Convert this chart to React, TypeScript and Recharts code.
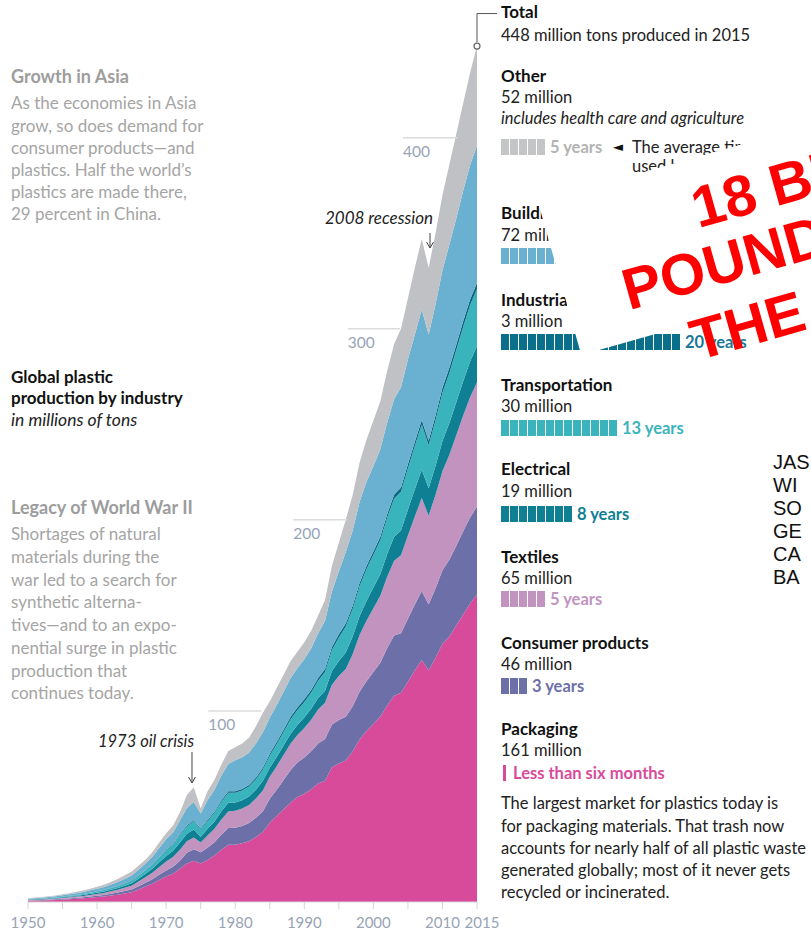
import React from "react";
import { AreaChart, Area, XAxis, YAxis, ReferenceLine, ReferenceDot } from "recharts";

// years 1950-2015, million tons per industry
const YEARS = [
  1950, 1951, 1952, 1953, 1954, 1955, 1956, 1957, 1958, 1959,
  1960, 1961, 1962, 1963, 1964, 1965, 1966, 1967, 1968, 1969,
  1970, 1971, 1972, 1973, 1974, 1975, 1976, 1977, 1978, 1979,
  1980, 1981, 1982, 1983, 1984, 1985, 1986, 1987, 1988, 1989,
  1990, 1991, 1992, 1993, 1994, 1995, 1996, 1997, 1998, 1999,
  2000, 2001, 2002, 2003, 2004, 2005, 2006, 2007, 2008, 2009,
  2010, 2011, 2012, 2013, 2014, 2015,
];

const PACKAGING = [
  0.64, 0.74, 0.83, 0.96, 1.09, 1.28, 1.47, 1.7, 1.92, 2.24,
  2.56, 2.88, 3.36, 3.84, 4.48, 5.12, 6.6, 8.1, 9.6, 11.5,
  13.3, 14.8, 17.4, 20.2, 21.6, 20.1, 22.0, 24.3, 27.4, 30.0,
  30.0, 30.7, 31.8, 34.0, 36.6, 41.5, 45.0, 48.5, 52.0, 55.0,
  56.6, 59.0, 62.0, 63.5, 70.5, 72.5, 74.0, 78.8, 85.1, 89.5,
  93.2, 96.9, 102.9, 108.0, 109.5, 115.3, 121.2, 126.7, 121.2, 127.8,
  135.1, 139.0, 144.7, 150.5, 156.2, 161,
];
const CONSUMER = [
  0.18, 0.21, 0.23, 0.27, 0.31, 0.36, 0.41, 0.48, 0.54, 0.63,
  0.72, 0.81, 0.95, 1.08, 1.26, 1.44, 1.7, 2.0, 2.3, 2.8,
  3.2, 3.6, 4.2, 5.6, 6.0, 5.9, 6.4, 7.0, 7.9, 8.7,
  8.9, 9.1, 9.5, 10.1, 10.9, 12.5, 13.8, 15.3, 16.9, 18.0,
  19.0, 19.9, 21.0, 21.8, 22.4, 22.8, 23.0, 23.6, 25.0, 26.1,
  27.2, 28.3, 30.0, 31.5, 31.2, 32.9, 34.5, 36.1, 34.5, 36.4,
  38.5, 40.1, 41.8, 43.5, 45.1, 46,
];
const TEXTILES = [
  0.24, 0.28, 0.31, 0.36, 0.41, 0.48, 0.55, 0.64, 0.72, 0.84,
  0.96, 1.08, 1.26, 1.44, 1.68, 1.92, 2.4, 2.9, 3.4, 4.0,
  4.7, 5.2, 5.8, 6.0, 6.2, 5.2, 6.4, 7.0, 7.9, 8.7,
  8.9, 9.1, 9.5, 10.1, 10.9, 11.6, 12.3, 13.1, 13.9, 14.4,
  15.5, 16.5, 17.8, 19.0, 20.8, 23.0, 25.0, 27.3, 29.6, 31.6,
  33.4, 35.1, 37.3, 39.1, 40.8, 43.6, 46.0, 48.6, 46.5, 49.0,
  51.8, 55.0, 57.8, 60.6, 62.9, 65,
];
const ELECTRICAL = [
  0.16, 0.18, 0.21, 0.24, 0.27, 0.32, 0.37, 0.42, 0.48, 0.56,
  0.64, 0.72, 0.84, 0.96, 1.12, 1.28, 1.5, 1.8, 2.1, 2.5,
  2.9, 3.2, 3.8, 3.9, 4.2, 2.9, 3.5, 3.8, 4.3, 4.5,
  4.3, 4.3, 4.4, 4.6, 5.0, 4.6, 4.8, 5.0, 5.1, 5.2,
  5.4, 5.7, 6.0, 6.3, 7.2, 7.9, 8.6, 9.2, 9.9, 10.4,
  10.8, 11.3, 12.0, 12.6, 12.9, 13.6, 14.3, 14.9, 14.3, 15.1,
  15.9, 16.6, 17.3, 18.0, 18.7, 19,
];
const TRANSPORT = [
  0.16, 0.18, 0.21, 0.24, 0.27, 0.32, 0.37, 0.42, 0.48, 0.56,
  0.64, 0.72, 0.84, 0.96, 1.12, 1.28, 1.5, 1.8, 2.1, 2.5,
  2.9, 3.2, 3.8, 3.9, 4.2, 3.9, 4.1, 4.5, 5.0, 5.3,
  5.1, 5.1, 5.2, 5.5, 5.9, 6.3, 6.7, 7.1, 7.6, 7.9,
  8.2, 8.5, 9.0, 9.8, 11.0, 12.3, 13.6, 14.5, 15.6, 16.5,
  17.1, 17.8, 18.9, 19.9, 20.4, 21.5, 22.6, 23.6, 22.6, 23.8,
  25.2, 26.2, 27.3, 28.4, 29.5, 30,
];
const INDUSTRIAL = [
  0.02, 0.02, 0.03, 0.03, 0.03, 0.04, 0.05, 0.05, 0.06, 0.07,
  0.08, 0.09, 0.11, 0.12, 0.14, 0.16, 0.19, 0.2, 0.3, 0.3,
  0.4, 0.4, 0.5, 0.6, 0.6, 0.5, 0.6, 0.6, 0.7, 0.8,
  0.8, 0.8, 0.9, 0.9, 1.0, 1.1, 1.1, 1.2, 1.3, 1.3,
  1.4, 1.4, 1.5, 1.6, 1.6, 1.6, 1.6, 1.6, 1.7, 1.7,
  1.8, 1.8, 1.9, 2.0, 2.1, 2.2, 2.3, 2.4, 2.3, 2.5,
  2.6, 2.7, 2.8, 2.9, 3.0, 3,
];
const BUILDING = [
  0.34, 0.39, 0.44, 0.51, 0.58, 0.68, 0.78, 0.9, 1.02, 1.19,
  1.36, 1.53, 1.79, 2.04, 2.38, 2.72, 3.0, 3.3, 3.9, 4.7,
  5.4, 6.0, 7.1, 9.0, 9.6, 7.8, 10.4, 11.5, 13.0, 14.2,
  16.2, 16.6, 17.0, 17.8, 18.5, 18.8, 19.4, 19.9, 20.3, 20.6,
  20.9, 21.8, 23.3, 25.2, 29.0, 33.0, 37.2, 39.5, 42.4, 44.2,
  44.5, 45.8, 48.0, 50.0, 52.5, 55.0, 56.0, 58.0, 55.5, 58.3,
  61.5, 64.5, 66.0, 68.3, 70.2, 72,
];
const OTHER = [
  0.26, 0.3, 0.34, 0.39, 0.44, 0.52, 0.6, 0.69, 0.78, 0.91,
  1.04, 1.17, 1.37, 1.56, 1.82, 2.08, 2.1, 2.0, 2.3, 2.8,
  3.2, 3.6, 4.4, 6.8, 7.6, 2.7, 4.6, 5.3, 5.8, 6.8,
  6.8, 7.3, 7.7, 9.0, 10.2, 8.6, 8.9, 8.9, 8.9, 8.6,
  9.0, 9.2, 9.4, 10.8, 13.5, 14.9, 17.0, 18.5, 20.7, 22.0,
  24.0, 25.0, 27.0, 28.9, 30.6, 31.9, 35.1, 36.7, 35.1, 37.1,
  39.4, 41.9, 44.3, 45.8, 48.4, 52,
];

const X_TICKS = [1950, 1955, 1960, 1965, 1970, 1975, 1980, 1985, 1990, 1995, 2000, 2005, 2010, 2015];
const X_LABELS = [1950, 1960, 1970, 1980, 1990, 2000, 2010, 2015];

// short gridline stubs next to the curve: [value, from year, to year]
const Y_STUBS: [number, number, number][] = [
  [100, 1976.1, 1983.8],
  [200, 1988.4, 1996.2],
  [300, 1996.3, 2003.9],
  [400, 2004.3, 2012.2],
];

const rows = YEARS.map((year, i) => ({
  year,
  packaging: PACKAGING[i],
  consumer: CONSUMER[i],
  textiles: TEXTILES[i],
  electrical: ELECTRICAL[i],
  transport: TRANSPORT[i],
  industrial: INDUSTRIAL[i],
  building: BUILDING[i],
  other: OTHER[i],
}));

const SERIES = [
  { key: "packaging", color: "#d84b9a" },
  { key: "consumer", color: "#6d70a8" },
  { key: "textiles", color: "#c293bf" },
  { key: "electrical", color: "#0f7f93" },
  { key: "transport", color: "#3ab4bc" },
  { key: "industrial", color: "#0a6680" },
  { key: "building", color: "#69b0d1" },
  { key: "other", color: "#c0c1c4" },
];

const FONT = "Lato, 'Open Sans', sans-serif";
const AXIS_GREY = "#98a4b6";

function XTick(props: any) {
  const { x, y, payload } = props;
  if (!X_LABELS.includes(payload.value)) return <g />;
  return (
    <text x={x + (payload.value === 2015 ? 5 : 0)} y={y + 17} textAnchor="middle" fill={AXIS_GREY} fontSize={15} fontFamily={FONT}>
      {payload.value}
    </text>
  );
}

const stubLabel = (t: string) => (p: any) => (
  <text x={p.viewBox.x} y={p.viewBox.y + 19} fill={AXIS_GREY} fontSize={15.5} fontFamily={FONT}>
    {t}
  </text>
);

const arrowShape = (p: any) => (
  <g>
    <line x1={p.x1} y1={p.y1} x2={p.x2} y2={p.y2} stroke="#444" strokeWidth={1} />
    <path d={`M${p.x2 - 3.5},${p.y2 - 6} L${p.x2},${p.y2} L${p.x2 + 3.5},${p.y2 - 6}`} fill="none" stroke="#444" strokeWidth={1} />
  </g>
);

function T({ x, y, children, style }: any) {
  return (
    <div style={{ position: "absolute", left: x, top: y - 11, height: 22, lineHeight: "22px", whiteSpace: "nowrap", fontSize: 16.5, color: "#222", ...style }}>
      {children}
    </div>
  );
}

function Blocks({ y, n, color, label, labelColor }: any) {
  return (
    <div style={{ position: "absolute", left: 501, top: y - 8, height: 16, display: "flex", alignItems: "center", whiteSpace: "nowrap" }}>
      {Array.from({ length: n }).map((_, i) => (
        <span key={i} style={{ display: "inline-block", width: 7.5, height: 16, marginRight: 1.5, background: color }} />
      ))}
      <span style={{ marginLeft: 4, fontWeight: 700, fontSize: 16.5, color: labelColor }}>{label}</span>
    </div>
  );
}

const bold = { fontWeight: 700, color: "#111", fontSize: 17 };
const greyHead = { fontWeight: 700, color: "#9d9d9d", fontSize: 18 };
const greyBody = { color: "#a5a5a5", fontSize: 17 };

export default function App() {
  return (
    <div style={{ position: "absolute", left: 0, top: 0, width: 811, height: 934, overflow: "hidden", background: "#fff", fontFamily: FONT }}>
      <AreaChart width={811} height={934} data={rows} margin={{ top: 4, right: 334, bottom: 0, left: 28 }}>
        <XAxis
          dataKey="year"
          type="number"
          domain={[1950, 2015]}
          ticks={X_TICKS}
          interval={0}
          height={32}
          tick={<XTick />}
          tickSize={7}
          tickLine={{ stroke: "#d6d6d6" }}
          axisLine={{ stroke: "#d6d6d6" }}
        />
        <YAxis hide type="number" domain={[0, 470]} />
        {SERIES.map((s) => (
          <Area
            key={s.key}
            type="linear"
            dataKey={s.key}
            stackId="1"
            stroke="none"
            fill={s.color}
            fillOpacity={1}
            isAnimationActive={false}
          />
        ))}
        {Y_STUBS.map(([v, a, b]) => (
          <ReferenceLine
            key={v}
            segment={[{ x: a, y: v }, { x: b, y: v }]}
            stroke="#dcdcdc"
            strokeWidth={1.5}
            ifOverflow="visible"
            label={stubLabel(String(v))}
          />
        ))}
        <ReferenceLine segment={[{ x: 1973.74, y: 78.5 }, { x: 1973.74, y: 62.3 }]} ifOverflow="visible" shape={arrowShape} />
        <ReferenceLine segment={[{ x: 2008.2, y: 350.2 }, { x: 2008.2, y: 342.3 }]} ifOverflow="visible" shape={arrowShape} />
        <ReferenceLine segment={[{ x: 2015, y: 450 }, { x: 2015, y: 465 }]} stroke="#555" strokeWidth={1} ifOverflow="visible" />
        <ReferenceLine segment={[{ x: 2015, y: 465 }, { x: 2017.9, y: 465 }]} stroke="#555" strokeWidth={1} ifOverflow="visible" />
        <ReferenceDot x={2015} y={448} r={3} fill="#fff" stroke="#666" strokeWidth={1.2} ifOverflow="visible" />
      </AreaChart>

      {/* left notes */}
      <T x={11} y={76} style={greyHead}>Growth in Asia</T>
      <T x={11} y={103} style={greyBody}>As the economies in Asia</T>
      <T x={11} y={126} style={greyBody}>grow, so does demand for</T>
      <T x={11} y={148} style={greyBody}>consumer products—and</T>
      <T x={11} y={170} style={greyBody}>plastics. Half the world’s</T>
      <T x={11} y={192} style={greyBody}>plastics are made there,</T>
      <T x={11} y={214} style={greyBody}>29 percent in China.</T>

      <T x={11} y={377} style={bold}>Global plastic</T>
      <T x={11} y={398} style={bold}>production by industry</T>
      <T x={11} y={420} style={{ fontStyle: "italic", fontSize: 17.5, color: "#222" }}>in millions of tons</T>

      <T x={11} y={507} style={greyHead}>Legacy of World War II</T>
      <T x={11} y={534} style={greyBody}>Shortages of natural</T>
      <T x={11} y={557} style={greyBody}>materials during the</T>
      <T x={11} y={580} style={greyBody}>war led to a search for</T>
      <T x={11} y={602} style={greyBody}>synthetic alterna-</T>
      <T x={11} y={625} style={greyBody}>tives—and to an expo-</T>
      <T x={11} y={648} style={greyBody}>nential surge in plastic</T>
      <T x={11} y={671} style={greyBody}>production that</T>
      <T x={11} y={693} style={greyBody}>continues today.</T>

      <div style={{ position: "absolute", left: 20, width: 174, top: 730, lineHeight: "22px", textAlign: "right", fontStyle: "italic", fontSize: 16.5, color: "#222" }}>1973 oil crisis</div>
      <div style={{ position: "absolute", left: 240, width: 193, top: 207, lineHeight: "22px", textAlign: "right", fontStyle: "italic", fontSize: 17, color: "#222" }}>2008 recession</div>

      {/* right column */}
      <T x={501} y={12} style={bold}>Total</T>
      <T x={501} y={35}>448 million tons produced in 2015</T>

      <T x={501} y={76} style={bold}>Other</T>
      <T x={501} y={97}>52 million</T>
      <T x={501} y={118} style={{ fontStyle: "italic" }}>includes health care and agriculture</T>
      <Blocks y={147} n={5} color="#c4c5c7" label="5 years" labelColor="#b3b3b3" />
      <T x={613} y={147} style={{ fontSize: 13, fontFamily: "'DejaVu Sans', sans-serif", color: "#111" }}>◄</T>
      <T x={632} y={147}>The average time a product is</T>
      <T x={632} y={166}>used before it is thrown away</T>

      <T x={501} y={213} style={bold}>Building and construction</T>
      <T x={501} y={235}>72 million</T>
      <Blocks y={256} n={35} color="#69b0d1" label="35 years" labelColor="#69b0d1" />

      <T x={501} y={300} style={bold}>Industrial machinery</T>
      <T x={501} y={321}>3 million</T>
      <Blocks y={342} n={20} color="#0a6f8b" label="20 years" labelColor="#1a7895" />

      <T x={501} y={385} style={bold}>Transportation</T>
      <T x={501} y={406}>30 million</T>
      <Blocks y={428} n={13} color="#3ab4bc" label="13 years" labelColor="#3ab4bc" />

      <T x={501} y={469} style={bold}>Electrical</T>
      <T x={501} y={491}>19 million</T>
      <Blocks y={514} n={8} color="#0f7f93" label="8 years" labelColor="#0f7f93" />

      <T x={501} y={557} style={bold}>Textiles</T>
      <T x={501} y={578}>65 million</T>
      <Blocks y={599} n={5} color="#c293bf" label="5 years" labelColor="#c293bf" />

      <T x={501} y={643} style={bold}>Consumer products</T>
      <T x={501} y={664}>46 million</T>
      <Blocks y={686} n={3} color="#6d70a8" label="3 years" labelColor="#6d70a8" />

      <T x={501} y={729} style={bold}>Packaging</T>
      <T x={501} y={750}>161 million</T>
      <div style={{ position: "absolute", left: 503, top: 765, width: 3, height: 16, background: "#d84b9a" }} />
      <T x={513} y={773} style={{ fontWeight: 700, color: "#d84b9a" }}>Less than six months</T>

      <T x={501} y={803}>The largest market for plastics today is</T>
      <T x={501} y={826}>for packaging materials. That trash now</T>
      <T x={501} y={848}>accounts for nearly half of all plastic waste</T>
      <T x={501} y={870}>generated globally; most of it never gets</T>
      <T x={501} y={892}>recycled or incinerated.</T>

      {/* overlay: rotated white box with red caption */}
      <div style={{ position: "absolute", left: 538, top: 202, width: 420, height: 159, background: "#fff", transformOrigin: "0 0", transform: "rotate(-15.8deg)", fontFamily: "'Liberation Sans', Arial, sans-serif", fontWeight: 700, color: "#ff0000", fontSize: 58, lineHeight: "58px" }}>
        <div style={{ position: "absolute", left: 147, top: 20, whiteSpace: "nowrap" }}>18 BILLION</div>
        <div style={{ position: "absolute", left: 58, top: 80, whiteSpace: "nowrap" }}>POUNDS</div>
        <div style={{ position: "absolute", left: 110, top: 147, whiteSpace: "nowrap" }}>THE</div>
      </div>

      <div style={{ position: "absolute", left: 773, top: 451, fontFamily: "'Liberation Sans', Arial, sans-serif", fontSize: 20, lineHeight: "23px", color: "#111", whiteSpace: "nowrap" }}>
        <div>JAS</div>
        <div>WI</div>
        <div>SO</div>
        <div>GE</div>
        <div>CA</div>
        <div>BA</div>
      </div>
    </div>
  );
}
